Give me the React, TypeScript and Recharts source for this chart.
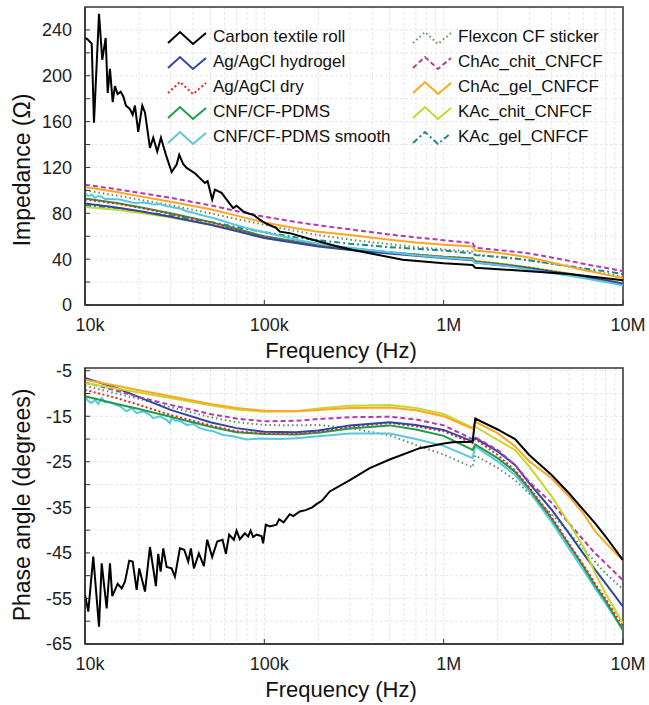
import React from 'react';
import { LineChart, Line, XAxis, YAxis, CartesianGrid, ReferenceArea } from 'recharts';

// ---------- shared frequency grid (Hz) ----------
const freqs = [1e4, 1.5e4, 2e4, 3e4, 5e4, 7e4, 1e5, 1.5e5, 2e5, 3e5, 5e5, 7e5, 1e6, 1.45e6, 1.5e6, 2e6, 2.5e6, 3e6, 4e6, 5e6, 6e6, 7e6, 8e6, 1e7];
const xTicks = [1e4, 1e5, 1e6, 1e7];
const xTickLabels = ['10k', '100k', '1M', '10M'];
const zTicks = [0, 20, 40, 60, 80, 100, 120, 140, 160, 180, 200, 220, 240];
const pTicks = [-65, -60, -55, -50, -45, -40, -35, -30, -25, -20, -15, -10, -5];

// ---------- impedance (Ohm) ----------
const zHydrogel = [88.5, 85, 82, 77, 70, 64.5, 58.5, 54, 51, 48, 45, 43, 41, 39, 37, 35, 33.5, 32, 29, 27, 25, 23, 21.5, 18.5];
const zDry = [92, 88.5, 85, 79.5, 72, 66, 59.5, 55, 52, 49, 46, 44, 42, 40.5, 38, 36, 34, 32.5, 29.5, 27, 25, 23, 21.5, 18.5];
const zPdms = [93, 89, 85.5, 80, 72.5, 66.5, 60, 55.5, 52.5, 49.5, 46, 44, 42, 40.5, 38, 36, 34, 32, 29, 26.5, 24.5, 22.5, 21, 18];
const zFlexcon = [100, 95.5, 92, 87, 80, 75, 70, 64.5, 61, 57, 53, 50.5, 48.5, 46.5, 44, 42, 40.5, 39, 36, 33.5, 31, 29, 27.5, 24.5];
const zChAcChit = [105, 101, 98, 93.5, 87, 82, 77, 72.5, 69.5, 66, 61.5, 59, 56.5, 54, 50, 48, 46.5, 45, 41.5, 38.5, 36, 34, 32.5, 29.5];
const zChAcGel = [103, 98.5, 95, 90, 83.5, 78, 72, 67, 64, 61, 57, 54.5, 52.5, 51, 47.5, 45.5, 43.5, 41.5, 37, 33.5, 30.5, 28.5, 26.5, 23.5];
const zKAcChit = [85.5, 83, 80.5, 76.5, 70, 64.5, 58.5, 54.5, 51.5, 48.5, 45.5, 43.5, 42, 40.5, 38.5, 36.5, 34.5, 33, 30, 27.5, 25.5, 23.5, 22, 19];
const zKAcGel = [87, 84, 81.5, 78, 72.5, 68, 63.5, 59, 56.5, 53.5, 50.5, 49, 47.5, 45, 43.5, 42, 40.5, 39, 36, 34, 32, 30.5, 29.5, 27];

const carbonZFreq = [10000, 10300, 10900, 11220, 11970, 12480, 13040, 13380, 13780, 14270, 14690, 15210, 15810, 16350, 16920, 17810, 18440, 18990, 19810, 20860, 21600, 23020, 24020, 25280, 26510, 28270, 30410, 32430, 33530, 35280, 36870, 41010, 46620, 48260, 51200, 53000, 57730, 67020, 70020, 76170, 83040, 86630, 94390, 102900, 116900, 122000, 138700, 186000, 250000, 312000, 591000, 1000000, 1450000, 1500000, 3000000, 5000000, 10000000];
const carbonZ = [233, 232, 228, 159, 254, 214, 233, 185, 206, 177, 191, 184, 186, 182, 174, 171, 166, 174, 151, 174, 168, 137, 146, 134, 146, 131, 116, 122.5, 131, 123, 119.6, 115, 106.5, 108, 92, 100.6, 97.8, 84.6, 86.6, 81.7, 79.4, 78.8, 74.4, 70.9, 67, 64, 62.7, 57, 51.5, 48, 39.5, 36.5, 35, 32.5, 29.5, 27, 21.5];

const cyanFreq = [10000, 10430, 10900, 11370, 11860, 12390, 12920, 13780, 15670, 17070, 18200, 19410, 21130, 23020, 24020, 26160, 28530, 29770, 30410, 31720, 33820, 36870, 40190, 43720, 47670, 51900, 58830, 67020, 79340, 94390, 122000, 150000, 200000, 300000, 500000, 700000, 1000000, 1450000, 1500000, 2000000, 2500000, 3000000, 4000000, 5000000, 6000000, 7000000, 8000000, 10000000];
const cyanZ = [97.8, 95, 96.4, 93.5, 95, 94.5, 92.5, 92.5, 92, 90.5, 89.5, 89, 89.5, 88.5, 87.6, 88.2, 86.1, 86, 85.5, 84.8, 84.2, 81.8, 80.5, 78.8, 77.3, 75.9, 73.3, 70.6, 67.2, 64.3, 60.4, 57, 53.5, 50, 46, 43.5, 41.5, 39.5, 37, 35, 33, 31, 28, 25.5, 23.5, 21.5, 20, 17];

// ---------- phase (degrees) ----------
const pHydrogel = [-6.6, -8.8, -10.8, -13.6, -16.3, -17.6, -18.4, -18.5, -18.1, -17, -16.3, -16.9, -18, -20.5, -19.8, -22.7, -25.7, -29.7, -35.5, -40.7, -45.1, -48.7, -51.7, -56.8];
const pDry = [-9.2, -11, -12.5, -14.7, -17, -18.3, -18.8, -18.9, -18.4, -17.3, -16.5, -17.2, -18.3, -20.9, -20, -23.5, -26.9, -30.6, -37.1, -43, -47.6, -51.8, -55.1, -61.2];
const pPdms = [-10.6, -12.3, -13.4, -15.1, -17.3, -18.5, -18.9, -19, -18.6, -17.7, -17, -17.9, -19.3, -22.4, -21.2, -24.2, -27.2, -30.9, -37.5, -43.2, -47.9, -52.2, -55.5, -62];
const pFlexcon = [-8.3, -10, -11.2, -13, -15.2, -16.3, -16.9, -17, -16.9, -17.6, -19.2, -21.3, -23.4, -26.2, -23.6, -26.3, -29, -32, -36.5, -40.5, -44, -47, -49.5, -53];
const pChAcChit = [-7.6, -9.4, -10.8, -12.5, -14.5, -15.5, -16.1, -16, -15.6, -15.2, -15.1, -15.7, -17, -20, -19.6, -22.4, -25.7, -29.4, -34, -38.5, -42.1, -45.1, -47.3, -51];
const pChAcGel = [-7, -8.3, -9.3, -10.6, -12.3, -13.2, -13.8, -13.9, -13.6, -13.2, -13.1, -13.7, -15, -17.7, -16.2, -18.7, -21.6, -24.9, -28.6, -32.6, -36.3, -40.3, -42.8, -46.7];
const pKAcChit = [-7.7, -8.9, -9.8, -11, -12.6, -13.5, -14, -13.9, -13.3, -12.7, -12.5, -13.2, -14.5, -17.5, -17.3, -20.2, -22.4, -26, -32.6, -38.5, -43.6, -49.5, -53.9, -60.5];

const cyanP = [-10.6, -11.7, -12.1, -11.4, -12.3, -11, -11.9, -11.9, -12.8, -13.9, -13.2, -14.3, -13.9, -14.7, -15.4, -15, -15.8, -16.5, -15.3, -16, -16, -16.9, -16.7, -17.6, -18, -18.3, -19.1, -19.4, -20.1, -19.9, -20, -19.8, -19.4, -18.8, -18.8, -20, -21.5, -24.2, -21.6, -24.9, -27.9, -31.5, -38.2, -44, -48.7, -52.8, -56.1, -62];

const carbonPFreq = [10000, 10430, 11120, 11970, 12390, 13210, 13780, 14190, 15210, 16020, 16700, 17650, 18440, 19410, 20070, 21600, 23020, 24860, 25610, 26410, 27310, 28530, 30410, 31720, 33820, 35740, 37640, 38950, 40480, 43160, 46030, 48010, 51200, 54580, 58490, 61030, 63670, 67630, 70020, 73040, 77870, 81240, 83790, 86630, 90470, 96470, 98470, 101900, 107300, 116900, 120900, 128000, 138700, 145000, 157700, 170000, 185000, 195400, 210000, 231700, 300000, 387000, 500000, 735000, 1000000, 1120000, 1450000, 1500000, 2000000, 2500000, 3000000, 4000000, 5000000, 6000000, 7000000, 8000000, 10000000];
const carbonP = [-54.2, -57.9, -45.8, -61.2, -47.3, -57.2, -47.3, -54.5, -51.8, -52.8, -51.3, -46.7, -46.9, -53.1, -48.4, -53.5, -43.7, -52.3, -45.2, -49.1, -44, -48.1, -48.4, -50.2, -44, -44.3, -46.9, -44, -48.4, -45.1, -47.9, -42.1, -45.9, -42.5, -42.1, -45.2, -41, -42.1, -40.1, -42, -40.7, -41.4, -40.1, -41.5, -41, -41.3, -42.9, -38.8, -39.2, -38.8, -37.6, -38.3, -36.5, -36.9, -35.9, -35.6, -35, -34.3, -33.5, -31.5, -29, -26.4, -24.5, -22, -21, -20.7, -20.6, -15.5, -17.9, -20, -23.5, -27.9, -31.9, -35.5, -38.5, -41.4, -46.6];

// ---------- series names & styles ----------
const NAMES = {
  carbon: 'Carbon textile roll', hydrogel: 'Ag/AgCl hydrogel', dry: 'Ag/AgCl dry', pdms: 'CNF/CF-PDMS', smooth: 'CNF/CF-PDMS smooth',
  flexcon: 'Flexcon CF sticker', chacChit: 'ChAc_chit_CNFCF', chacGel: 'ChAc_gel_CNFCF', kacChit: 'KAc_chit_CNFCF', kacGel: 'KAc_gel_CNFCF',
};
const STYLE: Record<string, { color: string; dash?: string; w: number }> = {
  carbon: { color: '#000000', w: 2 },
  hydrogel: { color: '#3046a0', w: 2 },
  dry: { color: '#f0201e', dash: '2 2.5', w: 2 },
  pdms: { color: '#1a9e48', w: 2 },
  smooth: { color: '#5ac6df', w: 2 },
  flexcon: { color: '#5f8f6a', dash: '1.5 3', w: 2 },
  chacChit: { color: '#b23cab', dash: '5 3', w: 2 },
  chacGel: { color: '#ffa622', w: 2 },
  kacChit: { color: '#c5d92c', w: 2 },
  kacGel: { color: '#168a8a', dash: '6 3 2 3', w: 2 },
};
const legendCol1 = ['carbon', 'hydrogel', 'dry', 'pdms', 'smooth'];
const legendCol2 = ['flexcon', 'chacChit', 'chacGel', 'kacChit', 'kacGel'];

const zip = (fs: number[], vs: number[]) => fs.map((f, i) => ({ f, v: vs[i] }));

const zSeries: [string, { f: number; v: number }[]][] = [
  ['flexcon', zip(freqs, zFlexcon)],
  ['kacGel', zip(freqs, zKAcGel)],
  ['kacChit', zip(freqs, zKAcChit)],
  ['pdms', zip(freqs, zPdms)],
  ['dry', zip(freqs, zDry)],
  ['hydrogel', zip(freqs, zHydrogel)],
  ['smooth', zip(cyanFreq, cyanZ)],
  ['chacGel', zip(freqs, zChAcGel)],
  ['chacChit', zip(freqs, zChAcChit)],
  ['carbon', zip(carbonZFreq, carbonZ)],
];
const pSeries: [string, { f: number; v: number }[]][] = [
  ['flexcon', zip(freqs, pFlexcon)],
  ['smooth', zip(cyanFreq, cyanP)],
  ['pdms', zip(freqs, pPdms)],
  ['dry', zip(freqs, pDry)],
  ['hydrogel', zip(freqs, pHydrogel)],
  ['chacChit', zip(freqs, pChAcChit)],
  ['kacChit', zip(freqs, pKAcChit)],
  ['chacGel', zip(freqs, pChAcGel)],
  ['carbon', zip(carbonPFreq, carbonP)],
];

const minorX: number[] = [];
[1e4, 1e5, 1e6].forEach((d) => { for (let k = 1; k <= 9; k++) minorX.push(d * k); });
minorX.push(1e7);

const FONT = '"Liberation Sans", Arial, sans-serif';
const TM = 13;
const AX = '#333333';
const TICK_FS = 18;

const XTick = (p: any) => {
  const i = xTicks.indexOf(p.payload.value);
  const ay = p.y - TM;
  return (
    <g>
      <line x1={p.x} x2={p.x} y1={ay} y2={ay - 5} stroke={AX} strokeWidth={1} />
      <text x={p.x + 5} y={p.y} dy="0.72em" textAnchor="middle" fontSize={TICK_FS} fill="#222" fontFamily={FONT}>{xTickLabels[i]}</text>
    </g>
  );
};
const makeYTick = (isMajor: (v: number) => boolean) => (p: any) => {
  const ax = p.x + TM;
  return (
    <g>
      <line x1={ax} x2={ax + 5} y1={p.y} y2={p.y} stroke={AX} strokeWidth={1} />
      {isMajor(p.payload.value) ? (
        <text x={p.x} y={p.y} dy="0.36em" textAnchor="end" fontSize={TICK_FS} fill="#222" fontFamily={FONT}>{p.payload.value}</text>
      ) : null}
    </g>
  );
};

const YTitle = (text: string, cx: number, cy: number) => () => (
  <text x={cx} y={cy} transform={`rotate(-90 ${cx} ${cy})`} textAnchor="middle" dominantBaseline="central" fontSize={23} fill="#111" fontFamily={FONT}>{text}</text>
);
const XTitle = (cx: number, baseY: number) => () => (
  <text x={cx} y={baseY} textAnchor="middle" fontSize={22} fill="#111" fontFamily={FONT}>Frequency (Hz)</text>
);

const renderLines = (series: [string, { f: number; v: number }[]][]) =>
  series.map(([key, data]) => (
    <Line key={key} data={data} dataKey="v" name={(NAMES as any)[key]} type="linear" stroke={STYLE[key].color}
      strokeWidth={STYLE[key].w} strokeDasharray={STYLE[key].dash} dot={false} activeDot={false} isAnimationActive={false} />
  ));

const LegendIcon = ({ k }: { k: string }) => (
  <svg width={40} height={18} style={{ display: 'block' }}>
    <polyline points="1,14 13,3 26,15 39,4" fill="none" stroke={STYLE[k].color} strokeWidth={2} strokeDasharray={STYLE[k].dash} />
  </svg>
);

const LegendCol = ({ keys, left, textLeft }: { keys: string[]; left: number; textLeft: number }) => (
  <>
    {keys.map((k, i) => (
      <div key={k} style={{ position: 'absolute', left, top: 28 + i * 25, height: 20, width: 260 }}>
        <div style={{ position: 'absolute', left: 0, top: 1 }}><LegendIcon k={k} /></div>
        <div style={{ position: 'absolute', left: textLeft - left, top: -1, fontSize: 17, lineHeight: '20px', color: '#111', whiteSpace: 'nowrap', fontFamily: FONT }}>{(NAMES as any)[k]}</div>
      </div>
    ))}
  </>
);

export default function App() {
  return (
    <div style={{ position: 'absolute', left: 0, top: 0, width: 649, height: 705, background: '#fff', fontFamily: FONT }}>
      <div style={{ position: 'absolute', left: 0, top: 0 }}>
        <LineChart width={649} height={370} margin={{ top: 7, right: 26, bottom: 10, left: 0 }}>
          <CartesianGrid horizontalValues={[20, 40, 60, 80, 100, 120, 140, 160, 180, 200, 220, 240]} verticalValues={minorX} stroke="#e6e6e6" strokeDasharray="3 2" />
          <XAxis dataKey="f" type="number" scale="log" domain={[1e4, 1e7]} ticks={xTicks} interval={0} allowDataOverflow
            height={55} tickSize={0} tickMargin={TM} tick={XTick} axisLine={{ stroke: AX, strokeWidth: 1.5 }}
            label={{ content: XTitle(341, 358) }} />
          <YAxis type="number" domain={[0, 260]} ticks={zTicks} interval={0} allowDataOverflow width={85}
            tickSize={0} tickMargin={TM} tick={makeYTick((v) => v % 40 === 0)} axisLine={{ stroke: AX, strokeWidth: 1.5 }}
            label={{ content: YTitle('Impedance (Ω)', 22, 170) }} />
          <ReferenceArea x1={1e4} x2={1e7} y1={0} y2={260} fill="none" stroke={AX} strokeWidth={1.5} ifOverflow="visible" />
          {renderLines(zSeries)}
        </LineChart>
      </div>
      <div style={{ position: 'absolute', left: 0, top: 360 }}>
        <LineChart width={649} height={345} margin={{ top: 8, right: 26, bottom: 0, left: 0 }}>
          <CartesianGrid horizontalValues={pTicks} verticalValues={minorX} stroke="#e6e6e6" strokeDasharray="3 2" />
          <XAxis dataKey="f" type="number" scale="log" domain={[1e4, 1e7]} ticks={xTicks} interval={0} allowDataOverflow
            height={61} tickSize={0} tickMargin={TM} tick={XTick} axisLine={{ stroke: AX, strokeWidth: 1.5 }}
            label={{ content: XTitle(341, 337) }} />
          <YAxis type="number" domain={[-65, -4.4]} ticks={pTicks} interval={0} allowDataOverflow width={85}
            tickSize={0} tickMargin={TM} tick={makeYTick((v) => (v + 65) % 10 === 0)} axisLine={{ stroke: AX, strokeWidth: 1.5 }}
            label={{ content: YTitle('Phase angle (degrees)', 22, 145) }} />
          <ReferenceArea x1={1e4} x2={1e7} y1={-65} y2={-4.4} fill="none" stroke={AX} strokeWidth={1.5} ifOverflow="visible" />
          {renderLines(pSeries)}
        </LineChart>
      </div>
      <LegendCol keys={legendCol1} left={167} textLeft={213} />
      <LegendCol keys={legendCol2} left={412} textLeft={458} />
    </div>
  );
}
